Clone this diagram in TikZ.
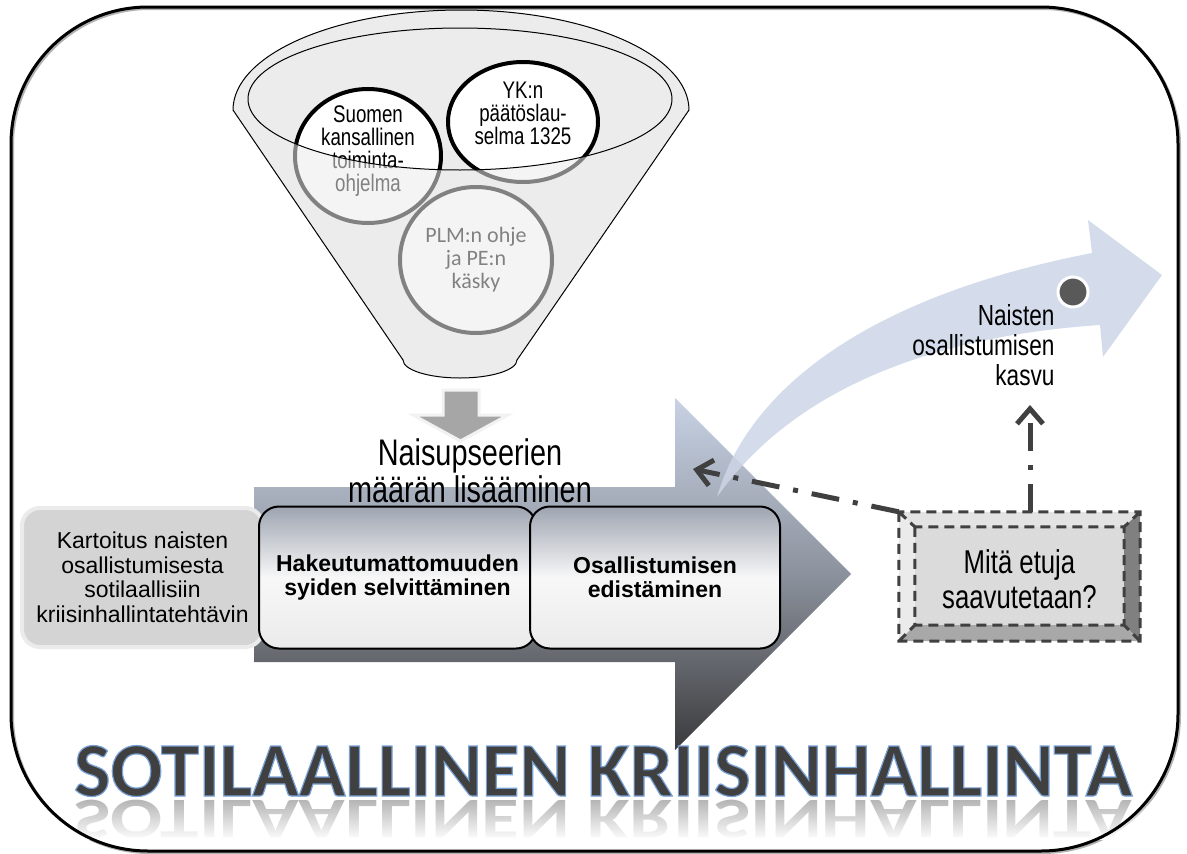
\documentclass[tikz,border=0pt]{standalone}
\usepackage{fontspec}
\setmainfont{Liberation Sans}
\newfontfamily\narrowfont[FakeStretch=0.78]{Liberation Sans}
\newfontfamily\calfont{Carlito}
\usetikzlibrary{positioning,shapes.geometric,arrows.meta,calc,fadings}

\definecolor{funnelgray}{HTML}{ECECEC}
\definecolor{arrowtop}{RGB}{200,210,228}
\definecolor{arrowmid}{RGB}{140,146,157}
\definecolor{arrowbot}{RGB}{58,58,60}
\definecolor{boxtop}{RGB}{158,164,176}
\definecolor{curveblue}{RGB}{205,213,230}
\definecolor{dotgray}{HTML}{595959}
\definecolor{dashgray}{HTML}{404040}
\definecolor{titlegray}{HTML}{404040}

% funnel outline, in pixel coordinates
\newcommand{\funnelpath}{(233,110) arc[start angle=180, end angle=360, x radius=228, y radius=100]
  -- (517,360) arc[start angle=0, end angle=180, x radius=57, y radius=18] -- cycle}
% blue edge round the title letters
\newcommand{\edgeon}{\special{pdf:literal direct 2 Tr 1.2 w 0.47 0.63 0.84 RG}}
\newcommand{\edgeoff}{\special{pdf:literal direct 0 Tr}}

\tikzset{
  fcircle/.style={ellipse, draw=black, line width=4pt, fill=white, inner sep=0pt},
  circtext/.style={font=\narrowfont\fontsize{24}{23}\selectfont, align=center},
  greybox/.style={draw=black!8, line width=4pt, fill=black!17, rounded corners=18pt,
    minimum width=241pt, minimum height=139pt, align=center,
    font=\fontsize{23}{24.5}\selectfont},
  stepbox/.style={draw=black, line width=2pt, rounded corners=20pt,
    top color=boxtop, bottom color=white!92!black, middle color=white!97!black,
    minimum height=142pt, align=center, font=\bfseries\fontsize{23}{24}\selectfont},
  dashdot/.style={dashgray, line width=5pt, dash pattern=on 28pt off 14pt on 5pt off 14pt,
    -{Straight Barb[length=15pt,width=26pt]}},
  titletext/.style={anchor=base, inner sep=0pt,
    font=\calfont\bfseries\fontsize{77}{77}\selectfont}
}

\begin{document}
\begin{tikzpicture}[x=1pt, y=-1pt]
  \useasboundingbox (0,0) rectangle (1187,854);
  \draw[black!30, line width=3pt, rounded corners=137pt] (12.5,8.5) rectangle (1179.5,852.5);

  % funnel with the three sources
  \fill[funnelgray] \funnelpath;
  \node (suomi) [fcircle, minimum width=146pt, minimum height=134pt] at (368,156) {};
  \node (suomitext) [circtext] at ([yshift=5pt]suomi.center) {Suomen\\kansallinen\\toiminta-\\ohjelma};
  \node (ykn) [fcircle, minimum width=150pt, minimum height=120pt] at (523,122) {};
  \node (ykntext) [circtext] at ([yshift=9pt]ykn.center) {YK:n\\päätöslau-\\selma 1325};
  \node (plm) [fcircle, minimum width=152pt, minimum height=146pt] at (476,260) {};
  \node (plmtext) [align=center, font=\calfont\fontsize{22}{23}\selectfont] at (plm.center) {PLM:n ohje\\ja PE:n\\käsky};
  \fill[funnelgray, opacity=0.55, even odd rule] \funnelpath
    (460,99) ellipse[x radius=212, y radius=71];
  \draw[line width=1pt] \funnelpath;
  \draw[line width=1pt] (460,99) ellipse[x radius=212, y radius=71];

  \draw[draw=black!5, line width=3pt, fill=black!35] (443,390) -- (479,390) -- (479,415)
    -- (508,415) -- (460.5,441) -- (413,415) -- (443,415) -- cycle;

  % main process arrow
  \shade[top color=arrowtop, bottom color=arrowbot, middle color=arrowmid]
    (254,487) -- (675,487) -- (675,398) -- (851,574) -- (675,750) -- (675,662) -- (254,662) -- cycle;

  \node (kartoitus) [greybox] at (142.5,577.5) {Kartoitus naisten\\osallistumisesta\\sotilaallisiin\\kriisinhallintatehtävin};
  \node (hake) [stepbox, minimum width=277pt, right=-7pt of kartoitus] {Hakeutumattomuuden\\syiden selvittäminen};
  \node (edist) [stepbox, minimum width=250pt, right=-8pt of hake] {Osallistumisen\\edistäminen};

  \node (maara) [font=\narrowfont\fontsize{37}{37}\selectfont, align=center] at (470,471) {Naisupseerien\\määrän lisääminen};

  % growth arrow
  \fill[curveblue, opacity=0.85] (717,497) .. controls (745,400) and (850,300) .. (1092,253)
    -- (1088,220) -- (1162,275) -- (1103,357) -- (1100,325)
    .. controls (950,335) and (800,380) .. (717,497) -- cycle;
  \node (dot) [circle, fill=dotgray, draw=white, line width=3pt, minimum size=30pt, inner sep=0pt] at (1073,292) {};
  \node (kasvu) [font=\narrowfont\fontsize{29}{30}\selectfont, align=right, anchor=east] at (1058,345) {Naisten\\osallistumisen\\kasvu};

  % bevelled question box
  \node (etuja) [minimum width=241pt, minimum height=129pt, inner sep=0pt] at (1019.5,576.5) {};
  \coordinate (innw) at ($(etuja.north west)+(16,15)$);
  \coordinate (inne) at ($(etuja.north east)+(-16,15)$);
  \coordinate (inse) at ($(etuja.south east)+(-16,-16)$);
  \coordinate (insw) at ($(etuja.south west)+(16,-16)$);
  \fill[black!11] (etuja.north west) -- (etuja.north east) -- (inne) -- (innw) -- cycle;
  \fill[black!8] (etuja.north west) -- (innw) -- (insw) -- (etuja.south west) -- cycle;
  \fill[black!50] (etuja.north east) -- (etuja.south east) -- (inse) -- (inne) -- cycle;
  \fill[black!34] (etuja.south west) -- (insw) -- (inse) -- (etuja.south east) -- cycle;
  \fill[black!14] (innw) rectangle (inse);
  \draw[dashgray, line width=3pt, dash pattern=on 10pt off 6pt]
    (etuja.north west) rectangle (etuja.south east) (innw) rectangle (inse)
    (etuja.north west) -- (innw) (etuja.north east) -- (inne)
    (etuja.south east) -- (inse) (etuja.south west) -- (insw);
  \node (etujatext) [font=\narrowfont\fontsize{33}{35}\selectfont, align=center] at ([yshift=-3pt]etuja.center) {Mitä etuja\\saavutetaan?};

  \coordinate (headtip) at (693,469);
  \coordinate (kasvutip) at (1030,405);
  \draw[dashdot] (etuja.north west) -- (headtip);
  \draw[dashdot] (etuja.north -| kasvutip) -- (kasvutip);

  % title with reflection
  \node (title) [titletext, text=titlegray] at (603,796) {\edgeon SOTILAALLINEN KRIISINHALLINTA\edgeoff};
  \node (mirror) [titletext, text=black!30, yscale=-0.75, transform shape] at (603,800) {SOTILAALLINEN KRIISINHALLINTA};
  \fill[white, path fading=north] (50,798) rectangle (1150,840);

  \draw[line width=3pt, rounded corners=137pt] (11,7) rectangle (1178,851);
\end{tikzpicture}
\end{document}
